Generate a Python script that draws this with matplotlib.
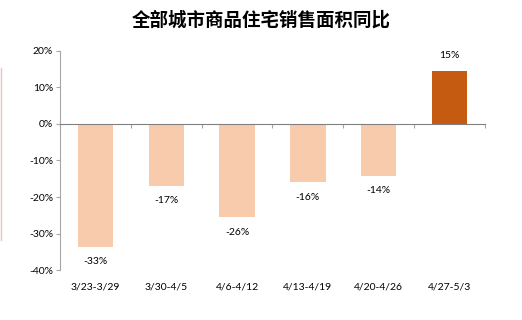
import numpy as np
import matplotlib
matplotlib.use("Agg")
import matplotlib.pyplot as plt
from matplotlib.lines import Line2D

plt.rcParams['font.family'] = ['Lato', 'DejaVu Sans']

# ----------------------------
# Data
# ----------------------------
weeks = ["3/23-3/29", "3/30-4/5", "4/6-4/12", "4/13-4/19", "4/20-4/26", "4/27-5/3"]
yoy = [-33.6, -16.9, -25.5, -15.9, -14.2, 14.5]
labels = ["-33%", "-17%", "-26%", "-16%", "-14%", "15%"]
yticks = [-40, -30, -20, -10, 0, 10, 20]

light = "#F8CBAD"
dark = "#C55A11"
grey = "#A6A6A6"

# ----------------------------
# Figure
# ----------------------------
fig = plt.figure(figsize=(5.22, 3.2), dpi=100)
ax = fig.add_axes([0.115, 0.156, 0.814, 0.685])

x = np.arange(len(weeks))
colors = [light] * (len(weeks) - 1) + [dark]
ax.bar(x, yoy, width=0.5, color=colors, zorder=2)

ax.set_xlim(-0.5, len(weeks) - 0.5)
ax.set_ylim(-40, 20)
ax.set_yticks(yticks)
ax.set_yticklabels([f"{t}%" for t in yticks], fontsize=7.5)

# x axis sits on zero line, ticks at category boundaries
ax.spines['bottom'].set_position(('data', 0))
ax.spines['bottom'].set_color("#808080")
ax.spines['bottom'].set_zorder(3)
ax.spines['left'].set_color(grey)
ax.spines['top'].set_visible(False)
ax.spines['right'].set_visible(False)
ax.set_xticks(np.arange(len(weeks) + 1) - 0.5)
ax.set_xticklabels([])
ax.tick_params(axis='x', direction='out', length=3, color=grey)
ax.tick_params(axis='y', direction='out', length=3, color=grey, pad=2)

# category labels at bottom
for xi, w in zip(x, weeks):
    ax.text(xi, -44.5, w, ha='center', va='center', fontsize=7.5, clip_on=False)

# value labels
for xi, v, lab in zip(x, yoy, labels):
    if v < 0:
        ax.text(xi, v - 4.1, lab, ha='center', va='center', fontsize=7.5)
    else:
        ax.text(xi, v + 4.1, lab, ha='center', va='center', fontsize=7.5)

fig.text(0.5, 1 - 20 / 320, "全部城市商品住宅销售面积同比", ha='center', va='center',
         fontsize=13.3, fontweight='black', family=['Noto Sans CJK SC', 'DejaVu Sans'])

# faint line at left edge
fig.add_artist(Line2D([0.002, 0.002], [1 - 68 / 320, 1 - 240 / 320], color="#E8C4BA",
                      linewidth=1, transform=fig.transFigure))

plt.savefig("out.png", dpi=100)
